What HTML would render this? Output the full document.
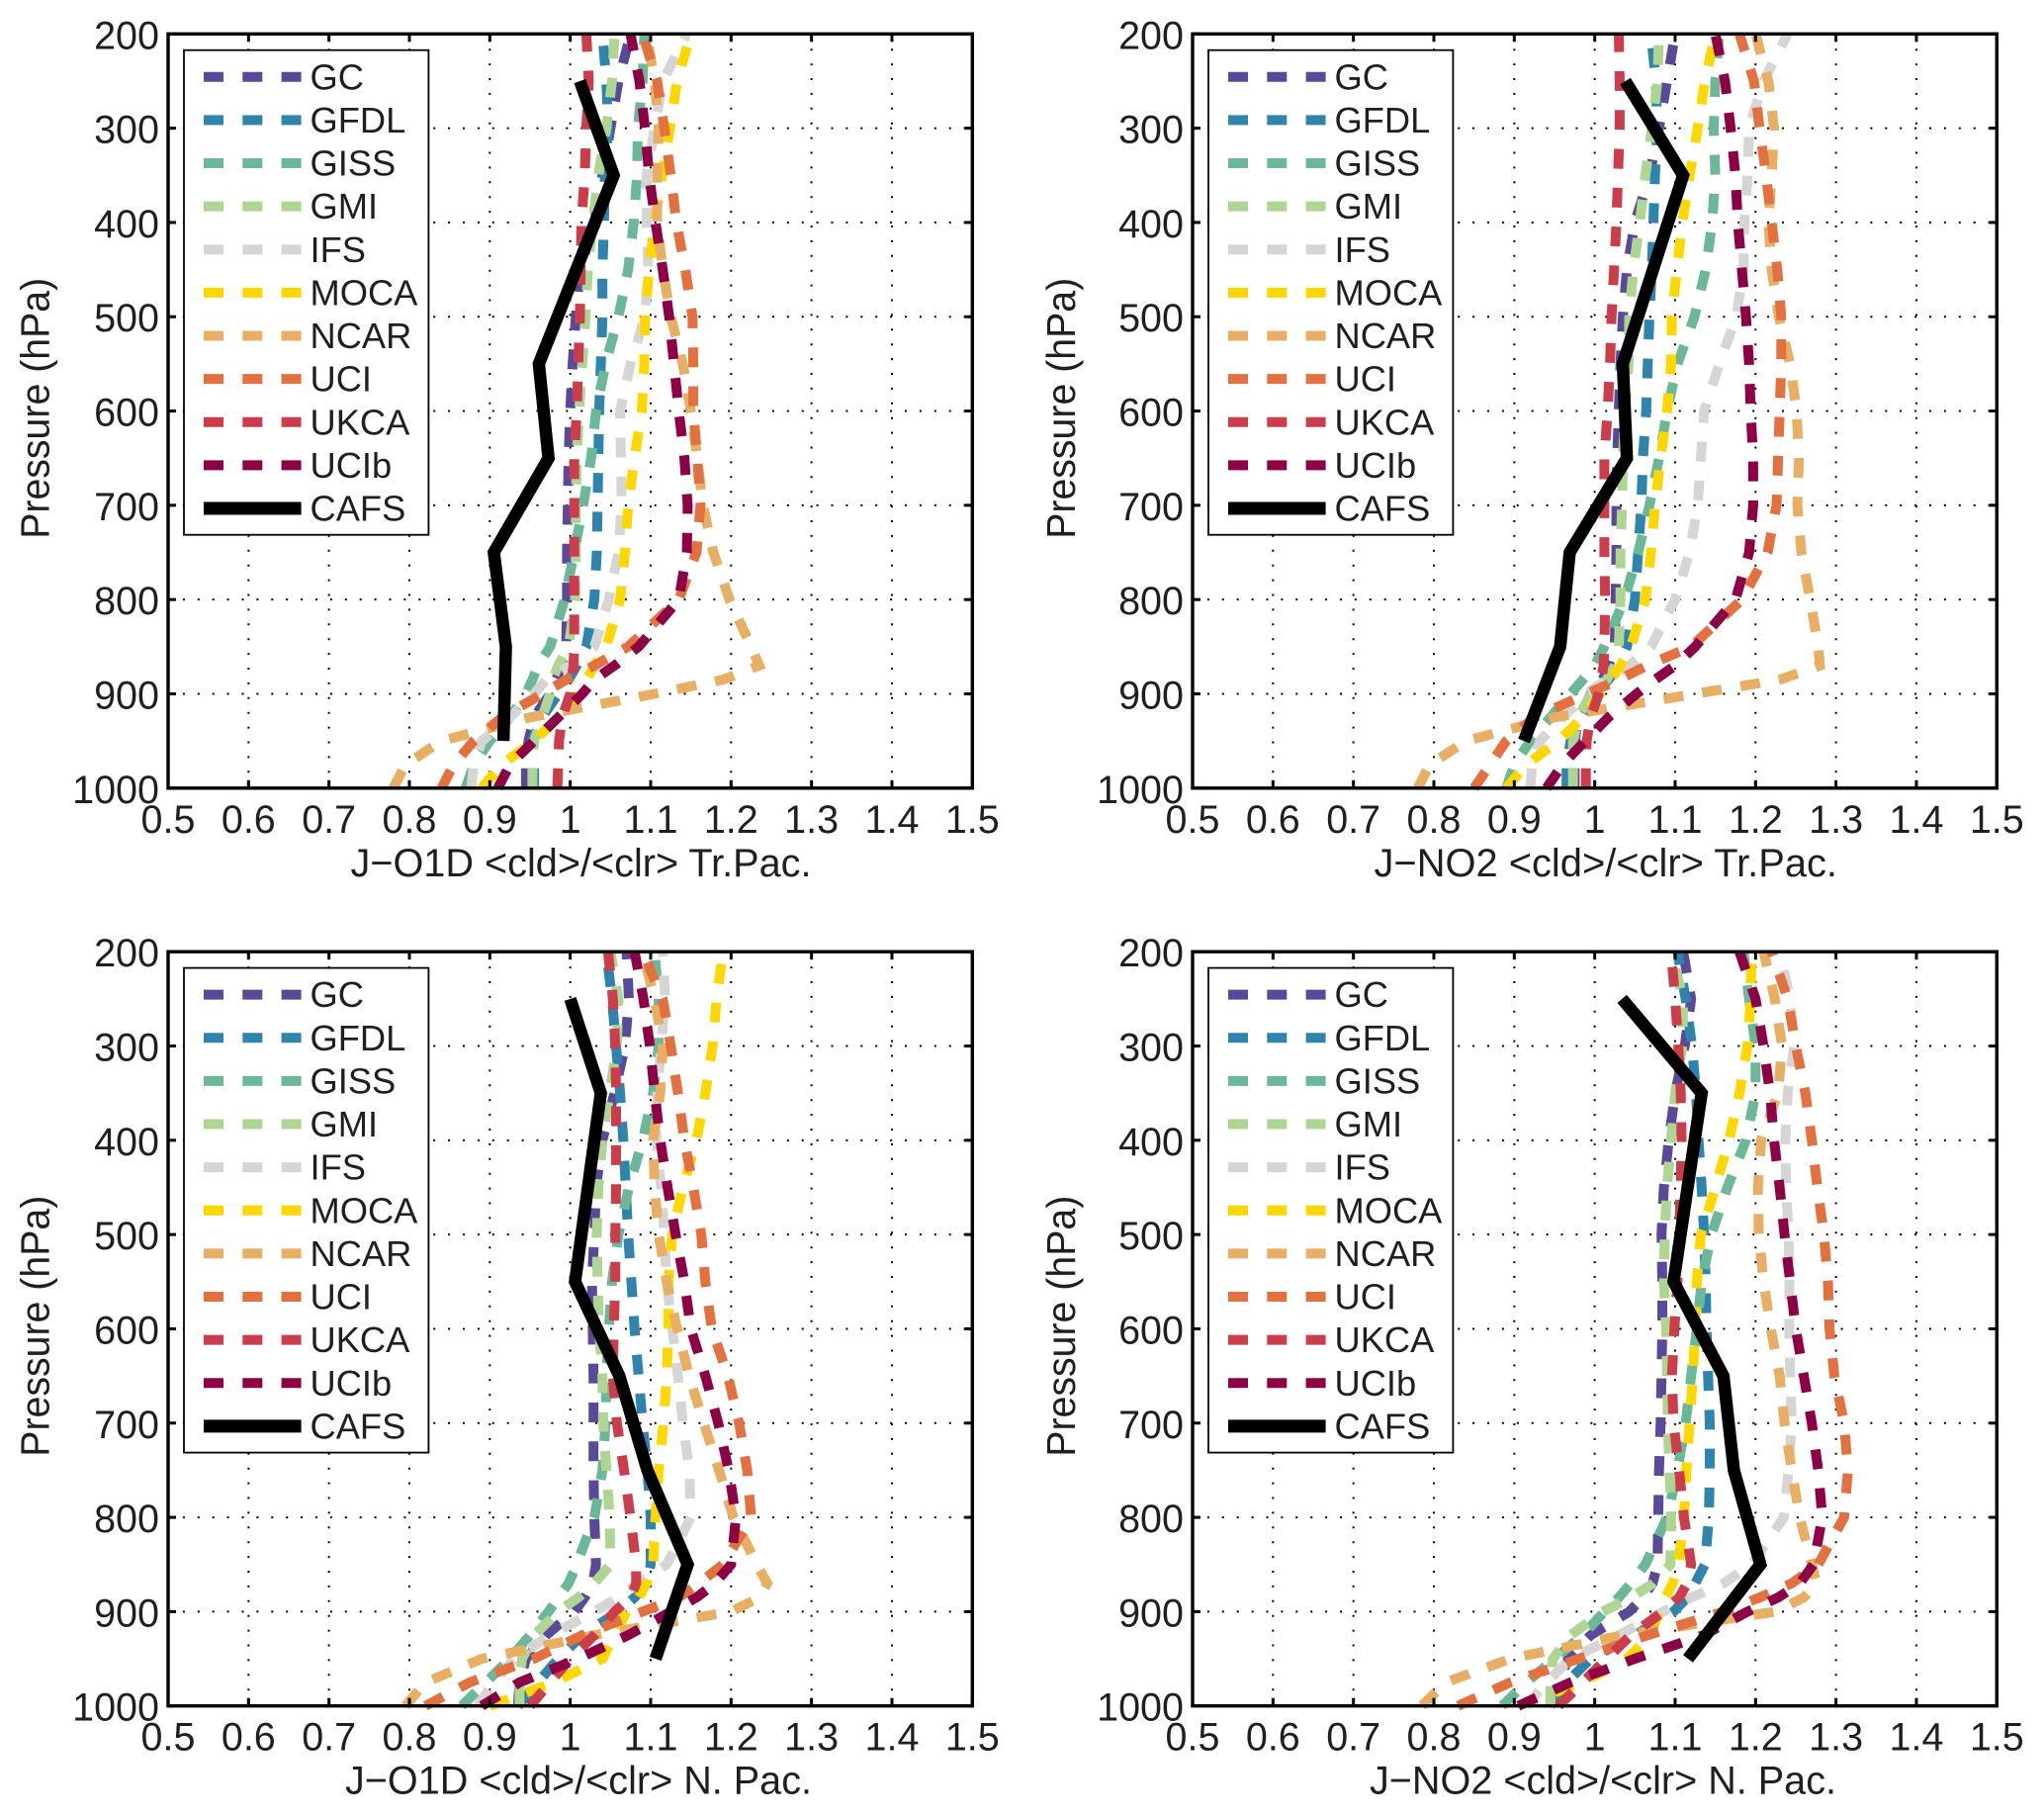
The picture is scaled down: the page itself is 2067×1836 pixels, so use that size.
<!DOCTYPE html>
<html lang="en">
<head>
<meta charset="utf-8">
<title>J-value cloud ratio profiles</title>
<style>
html,body{margin:0;padding:0;background:#fff;}
svg{display:block;}
text{font-family:"Liberation Sans",Arial,sans-serif;fill:#1f1f1f;}
</style>
</head>
<body>
<svg id="figure" xmlns="http://www.w3.org/2000/svg" width="2067" height="1836" viewBox="0 0 2067 1836"></svg>
<script>
const levels = [200,250,300,350,400,450,500,550,600,650,700,750,800,850,870,885,900,925,950,975,1000];
const cafsLevels = [250,350,550,650,750,850,950];
const xTicks = [0.5,0.6,0.7,0.8,0.9,1,1.1,1.2,1.3,1.4,1.5];
const yTicks = [200,300,400,500,600,700,800,900,1000];
const modelNames = ['GC','GFDL','GISS','GMI','IFS','MOCA','NCAR','UCI','UKCA','UCIb'];
const modelColors = ['#5a4899','#2e84ad','#6ab897','#aed592','#d5d5d5','#ffd700','#e8ae63','#e3703f','#cb3d4a','#8e0045'];

const o1dTrGC = [1.075,1.06,1.05,1.04,1.03,1.012,1.007,1.003,1,.998,.997,.996,.996,.995,.99,.982,.975,.955,.948,.945,.945];
const o1dTrGFDL = [1.04,1.045,1.047,1.043,1.042,1.04,1.04,1.038,1.036,1.035,1.034,1.033,1.03,1.02,1.008,.998,.985,.965,.953,.955,.955];
const o1dTrGISS = [1.092,1.09,1.084,1.083,1.079,1.072,1.06,1.044,1.032,1.026,1.016,1.005,.993,.975,.96,.953,.945,.925,.9,.88,.87];
const o1dTrGMI = [1.055,1.052,1.045,1.035,1.028,1.022,1.019,1.015,1.011,1.008,1.007,1.007,1.006,.998,.985,.978,.975,.965,.955,.953,.953];
const o1dTrIFS = [1.145,1.115,1.105,1.095,1.095,1.097,1.093,1.075,1.062,1.063,1.064,1.06,1.048,1.03,1,.97,.955,.925,.89,.88,.877];
const o1dTrMOCA = [1.15,1.133,1.124,1.114,1.105,1.098,1.093,1.092,1.089,1.08,1.072,1.068,1.062,1.045,1.03,1.02,1.01,.985,.955,.915,.89];
const o1dTrNCAR = [1.095,1.105,1.11,1.108,1.108,1.115,1.125,1.14,1.15,1.158,1.165,1.178,1.198,1.225,1.235,1.19,1.105,.95,.84,.795,.78];
const o1dTrUCI = [1.09,1.108,1.117,1.125,1.132,1.143,1.152,1.153,1.153,1.158,1.162,1.157,1.135,1.072,1.03,.995,.965,.915,.88,.855,.84];
const o1dTrUKCA = [1.02,1.023,1.02,1.018,1.014,1.013,1.012,1.01,1.008,1.005,1.005,1.005,1.005,1.005,1.004,1.002,1,.99,.986,.985,.984];
const o1dTrUCIb = [1.075,1.086,1.093,1.098,1.106,1.115,1.123,1.129,1.135,1.142,1.146,1.145,1.135,1.085,1.055,1.03,1.015,.985,.955,.925,.91];
const o1dTrCAFS = [1.012,1.054,.961,.973,.905,.92,.917];

const no2TrGC = [1.1,1.09,1.08,1.068,1.05,1.04,1.035,1.032,1.03,1.028,1.027,1.027,1.026,1.025,1.017,1.01,.995,.98,.975,.975,.975];
const no2TrGFDL = [1.07,1.076,1.078,1.075,1.073,1.071,1.068,1.066,1.064,1.06,1.058,1.054,1.05,1.04,1.03,1.017,1,.985,.97,.965,.965];
const no2TrGISS = [1.155,1.15,1.148,1.15,1.146,1.138,1.124,1.103,1.09,1.08,1.068,1.054,1.037,1.012,1,.985,.97,.945,.92,.9,.89];
const no2TrGMI = [1.08,1.078,1.071,1.063,1.056,1.048,1.043,1.042,1.038,1.035,1.034,1.032,1.032,1.03,1.025,1.015,.995,.98,.973,.973,.973];
const no2TrIFS = [1.24,1.21,1.192,1.19,1.186,1.185,1.176,1.155,1.136,1.132,1.128,1.118,1.1,1.07,1.043,1.015,.99,.96,.932,.922,.92];
const no2TrMOCA = [1.15,1.137,1.128,1.118,1.109,1.102,1.096,1.095,1.09,1.082,1.075,1.07,1.063,1.045,1.032,1.02,1.007,.985,.955,.915,.89];
const no2TrNCAR = [1.2,1.216,1.223,1.22,1.216,1.22,1.229,1.243,1.251,1.254,1.252,1.257,1.268,1.278,1.28,1.23,1.125,.95,.84,.795,.78];
const no2TrUCI = [1.18,1.198,1.205,1.213,1.22,1.227,1.232,1.232,1.23,1.228,1.226,1.215,1.183,1.12,1.065,1.03,.99,.925,.89,.87,.85];
const no2TrUKCA = [1.03,1.031,1.031,1.029,1.027,1.024,1.021,1.019,1.016,1.012,1.012,1.012,1.013,1.012,1.011,1.008,1.005,.995,.99,.989,.989];
const no2TrUCIb = [1.15,1.162,1.169,1.175,1.178,1.183,1.188,1.192,1.194,1.197,1.197,1.192,1.175,1.125,1.1,1.075,1.052,1.017,.988,.96,.94];
const no2TrCAFS = [1.038,1.11,1.035,1.04,.969,.957,.912];

const o1dNpGC = [1.07,1.073,1.068,1.055,1.04,1.032,1.03,1.027,1.028,1.029,1.029,1.029,1.03,1.032,1.028,1.018,1.005,.97,.945,.937,.935];
const o1dNpGFDL = [1.045,1.052,1.057,1.062,1.066,1.069,1.072,1.076,1.08,1.085,1.09,1.096,1.1,1.1,1.095,1.08,1.06,1.015,.985,.96,.935];
const o1dNpGISS = [1.105,1.11,1.11,1.103,1.09,1.073,1.06,1.052,1.048,1.045,1.044,1.04,1.03,1.008,.998,.985,.973,.95,.925,.895,.865];
const o1dNpGMI = [1.05,1.06,1.058,1.049,1.04,1.035,1.033,1.034,1.036,1.04,1.041,1.045,1.049,1.05,1.03,1.01,.985,.955,.94,.937,.937];
const o1dNpIFS = [1.115,1.118,1.113,1.108,1.107,1.113,1.117,1.12,1.127,1.134,1.14,1.148,1.15,1.12,1.085,1.06,1.03,.975,.93,.905,.885];
const o1dNpMOCA = [1.19,1.182,1.177,1.168,1.157,1.14,1.127,1.122,1.122,1.12,1.116,1.11,1.106,1.103,1.095,1.085,1.07,1.055,1.04,.98,.9];
const o1dNpNCAR = [1.09,1.105,1.115,1.112,1.103,1.105,1.11,1.12,1.133,1.148,1.166,1.185,1.203,1.232,1.245,1.235,1.2,1.03,.89,.82,.795];
const o1dNpUCI = [1.09,1.115,1.125,1.134,1.142,1.153,1.163,1.168,1.176,1.196,1.21,1.22,1.225,1.19,1.16,1.135,1.09,1.015,.955,.875,.82];
const o1dNpUKCA = [1.047,1.053,1.056,1.057,1.057,1.057,1.056,1.056,1.054,1.053,1.058,1.067,1.075,1.082,1.082,1.075,1.055,1.03,1,.975,.95];
const o1dNpUCIb = [1.08,1.091,1.099,1.105,1.112,1.121,1.131,1.142,1.15,1.168,1.184,1.197,1.206,1.2,1.18,1.157,1.125,1.072,1.01,.937,.89];
const o1dNpCAFS = [1,1.038,1.006,1.061,1.096,1.146,1.106];

const no2NpGC = [1.11,1.12,1.112,1.1,1.092,1.086,1.083,1.084,1.084,1.083,1.082,1.08,1.079,1.078,1.072,1.06,1.043,.995,.967,.955,.95];
const no2NpGFDL = [1.103,1.113,1.121,1.126,1.129,1.133,1.136,1.138,1.139,1.141,1.143,1.143,1.142,1.137,1.125,1.115,1.098,1.05,.995,.965,.945];
const no2NpGISS = [1.185,1.192,1.2,1.2,1.188,1.165,1.145,1.133,1.127,1.12,1.113,1.103,1.09,1.063,1.045,1.03,1.012,.985,.95,.915,.885];
const no2NpGMI = [1.095,1.11,1.109,1.1,1.095,1.09,1.087,1.086,1.089,1.09,1.091,1.093,1.095,1.094,1.073,1.045,1.01,.97,.948,.945,.945];
const no2NpIFS = [1.23,1.243,1.248,1.24,1.237,1.238,1.241,1.242,1.242,1.243,1.245,1.241,1.235,1.195,1.16,1.12,1.085,1.03,.97,.94,.915];
const no2NpMOCA = [1.195,1.194,1.19,1.18,1.167,1.15,1.132,1.127,1.125,1.122,1.118,1.114,1.111,1.104,1.097,1.088,1.08,1.07,1.04,.985,.905];
const no2NpNCAR = [1.21,1.224,1.233,1.228,1.207,1.203,1.204,1.21,1.219,1.23,1.236,1.245,1.255,1.27,1.276,1.26,1.225,1.035,.895,.815,.785];
const no2NpUCI = [1.22,1.24,1.25,1.262,1.27,1.277,1.285,1.29,1.292,1.298,1.31,1.315,1.31,1.278,1.245,1.205,1.16,1.066,.98,.895,.83];
const no2NpUKCA = [1.095,1.1,1.104,1.107,1.108,1.107,1.105,1.103,1.099,1.096,1.098,1.105,1.111,1.12,1.115,1.105,1.085,1.045,1.015,.985,.955];
const no2NpUCIb = [1.18,1.2,1.21,1.218,1.223,1.23,1.236,1.243,1.25,1.26,1.27,1.278,1.283,1.272,1.255,1.228,1.19,1.135,1.05,.97,.905];
const no2NpCAFS = [1.034,1.133,1.098,1.16,1.173,1.206,1.116];

const panelModels = [
  [o1dTrGC,o1dTrGFDL,o1dTrGISS,o1dTrGMI,o1dTrIFS,o1dTrMOCA,o1dTrNCAR,o1dTrUCI,o1dTrUKCA,o1dTrUCIb],
  [no2TrGC,no2TrGFDL,no2TrGISS,no2TrGMI,no2TrIFS,no2TrMOCA,no2TrNCAR,no2TrUCI,no2TrUKCA,no2TrUCIb],
  [o1dNpGC,o1dNpGFDL,o1dNpGISS,o1dNpGMI,o1dNpIFS,o1dNpMOCA,o1dNpNCAR,o1dNpUCI,o1dNpUKCA,o1dNpUCIb],
  [no2NpGC,no2NpGFDL,no2NpGISS,no2NpGMI,no2NpIFS,no2NpMOCA,no2NpNCAR,no2NpUCI,no2NpUKCA,no2NpUCIb]
];
const panelCafs = [o1dTrCAFS,no2TrCAFS,o1dNpCAFS,no2NpCAFS];
const panelTitles = ['J\u2212O1D <cld>/<clr> Tr.Pac.','J\u2212NO2 <cld>/<clr> Tr.Pac.','J\u2212O1D <cld>/<clr> N. Pac.','J\u2212NO2 <cld>/<clr> N. Pac.'];
const panelLeft = [170,1206,170,1206];
const panelTop = [34.3,34.3,962.2,962.2];
const titleStart = [354.5,1389.5,349,1385];
const titleWidth = [466,468.5,472,472];
const yLabelBase = [49.5,1086.8,49.5,1086.8];

const NS = 'http://www.w3.org/2000/svg';
const svg = document.getElementById('figure');
const W = 813.3, H = 762.5;

function make(tag, attrs, parent, txt) {
  const e = document.createElementNS(NS, tag);
  for (const k in attrs) e.setAttribute(k, attrs[k]);
  if (txt !== undefined) e.textContent = txt;
  parent.appendChild(e);
  return e;
}
function xScale(left, v) { return left + (v - 0.5) / 1.0 * W; }
function yScale(top, p) { return top + (p - 200) / 800 * H; }
function pathFrom(left, top, vals, lv) {
  let d = '';
  for (let i = vals.length - 1; i >= 0; i--) {
    d += (d ? 'L' : 'M') + xScale(left, vals[i]).toFixed(1) + ' ' + yScale(top, lv[i]).toFixed(1);
  }
  return d;
}

panelTitles.forEach(function (title, pi) {
  const L = panelLeft[pi], T = panelTop[pi], R = L + W, B = T + H;
  const g = make('g', {}, svg);
  
  

  // grid
  xTicks.forEach(function (t) {
    if (t === 0.5 || t === 1.5) return;
    const x = xScale(L, t);
    const gl = make('line', {x1:x,x2:x,y1:T,y2:B,stroke:'#000','stroke-width':2,'stroke-dasharray':'2 12.9'}, g);
    
    
  });
  yTicks.forEach(function (t) {
    if (t === 200 || t === 1000) return;
    const y = yScale(T, t);
    const gl = make('line', {x1:L,x2:R,y1:y,y2:y,stroke:'#000','stroke-width':2,'stroke-dasharray':'2 12.9'}, g);
    
    
  });

  // model series
  panelModels[pi].forEach(function (vals, si) {
    const p = make('path', {d:pathFrom(L, T, vals, levels),fill:'none',stroke:modelColors[si],'stroke-width':10,'stroke-dasharray':'20 19.3','stroke-linejoin':'miter'}, g);
    
    
  });

  // observed series
  const c = make('path', {d:pathFrom(L, T, panelCafs[pi], cafsLevels),fill:'none',stroke:'#000','stroke-width':12.5,'stroke-linejoin':'miter'}, g);
  
  

  // ticks
  xTicks.forEach(function (t) {
    const x = xScale(L, t);
    const a = make('line', {x1:x,x2:x,y1:B,y2:B-8,stroke:'#000','stroke-width':3}, g);
    
    
    const b = make('line', {x1:x,x2:x,y1:T,y2:T+8,stroke:'#000','stroke-width':3}, g);
    
    
    const lab = make('text', {x:x,y:B+45,'font-size':39.5,'text-anchor':'middle'}, g, String(t));
    
    
  });
  yTicks.forEach(function (t) {
    const y = yScale(T, t);
    const a = make('line', {x1:L,x2:L+8,y1:y,y2:y,stroke:'#000','stroke-width':3}, g);
    
    
    const b = make('line', {x1:R,x2:R-8,y1:y,y2:y,stroke:'#000','stroke-width':3}, g);
    
    
    const lab = make('text', {x:L-9,y:y+15,'font-size':39.5,'text-anchor':'end'}, g, String(t));
    
    
  });

  // frame
  const f = make('rect', {x:L,y:T,width:W,height:H,fill:'none',stroke:'#000','stroke-width':3.4}, g);
  
  

  // x label
  const xl = make('text', {x:titleStart[pi],y:B+89,'font-size':40,textLength:titleWidth[pi],lengthAdjust:'spacingAndGlyphs'}, g, title);
  
  

  // y label
  const yc = T + 378.5;
  const yl = make('text', {x:0,y:0,'font-size':40.5,'text-anchor':'middle',textLength:264,lengthAdjust:'spacingAndGlyphs',transform:'translate(' + yLabelBase[pi] + ' ' + yc + ') rotate(-90)'}, g, 'Pressure (hPa)');
  
  

  // legend
  const lg = make('g', {}, g);
  
  
  const box = make('rect', {x:L+16,y:T+16.4,width:247.4,height:490,fill:'#fff',stroke:'#000','stroke-width':1.8}, lg);
  
  
  modelNames.concat(['CAFS']).forEach(function (n, i) {
    const cy = T + 43.4 + i * 43.63;
    const isC = n === 'CAFS';
    const s = make('line', {x1:L+36,x2:L+134.6,y1:cy,y2:cy,stroke:isC ? '#000' : modelColors[i],'stroke-width':isC ? 13 : 10,'stroke-dasharray':isC ? 'none' : '20 19.3'}, lg);
    
    
    const t = make('text', {x:L+143.5,y:cy+12.6,'font-size':36.3}, lg, n);
    
    
  });
});
</script>
</body>
</html>
